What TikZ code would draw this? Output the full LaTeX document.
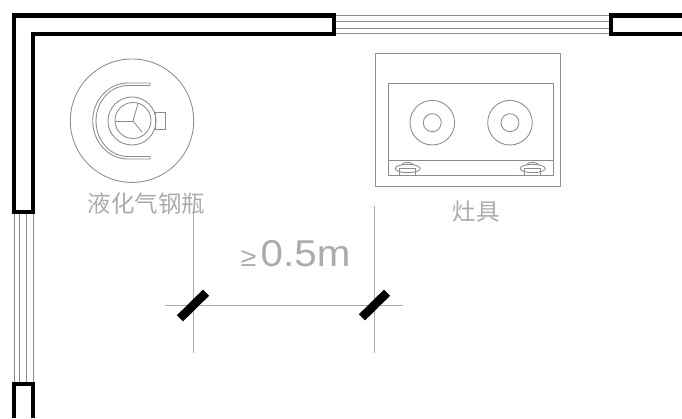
\documentclass[tikz,border=0pt]{standalone}
\usepackage{fontspec}
\setmainfont{Liberation Sans}
\newfontfamily\cjkfont{Noto Sans CJK SC}
\usepackage{xcolor}
\definecolor{planline}{HTML}{8C8C8C}
\definecolor{plantext}{HTML}{ABABAB}
\definecolor{dimline}{HTML}{ABABAB}
\usetikzlibrary{calc}
\tikzset{
  wall/.style={black, line width=3.4pt, line join=miter},
  glass/.style={planline, line width=0.6pt},
  thin part/.style={planline, line width=0.65pt},
  dim line/.style={dimline, line width=0.75pt},
  dim tick/.style={black, line width=6.5pt},
  label text/.style={plantext, inner sep=0pt}
}

\begin{document}
\begin{tikzpicture}[x=0.75pt, y=-0.75pt]
        \useasboundingbox (0,0) rectangle (682,418);
        % Walls
        \draw[wall] (334,15.5) -- (14,15.5) -- (14,212) -- (33,212) -- (33,34) -- (334,34) -- cycle;
        \draw[wall] (682,15.5) -- (611,15.5) -- (611,34) -- (682,34);
        \draw[wall] (14,418) -- (14,384) -- (33,384) -- (33,418);
        % Window, top
        \foreach \y in {15.5,21.5,28,33.5}
          \draw[glass] (336,\y) -- (609,\y);
        % Window, left
        \foreach \x in {14,19.5,26,33}
          \draw[glass] (\x,214) -- (\x,382);
        % Gas cylinder
        \draw[thin part] (132,120.7) circle (61.7);
        \draw[thin part] (132,121) circle (24);
        \draw[thin part] (133,120.5) circle (18);
        \draw[thin part] (133,121) -- (138,103.5);
        \draw[thin part] (133,121) -- (115,121);
        \draw[thin part] (133,121) -- (142,132);
        \draw[thin part] (155.7,112.7) rectangle (165.7,129.3);
        \draw[thin part] (150,83) -- (128,83) arc (-90:-270:35.3 and 38) -- (150,159) -- (150,156.5)
          -- (128,156.5) arc (-270:-90:32 and 35.5) -- (150,85.5) -- cycle;
        \node[label text, font=\cjkfont\fontsize{17.6}{20}\selectfont] (cylinderlabel) at (146.5,204) {液化气钢瓶};
        % Cooker
        \draw[thin part] (375.3,53.3) rectangle (560.3,186.3);
        \draw[thin part] (388.3,83.7) rectangle (553.3,175);
        \draw[thin part] (388.3,160.3) -- (553.3,160.3);
        \foreach \x in {432.3,510} {
          \draw[thin part] (\x,122.7) circle (22.3);
          \draw[thin part] (\x,122.7) circle (9);
        }
        \foreach \x in {407.7,532.7} {
          \draw[thin part] (\x,168.5) ellipse (12.5 and 4.2);
          \draw[thin part] (\x-6,164.8) .. controls (\x-5,161.5) and (\x+5,161.5) .. (\x+6,164.8);
          \draw[thin part] (\x-8,168.5) rectangle (\x+8,175);
        }
        \node[label text, font=\cjkfont\fontsize{17.6}{20}\selectfont] (cookerlabel) at (476,212) {灶具};
        % Clearance dimension
        \draw[dim line] (193,207) -- (193,353);
        \draw[dim line] (374,206) -- (374,353);
        \draw[dim line] (165,305) -- (403,305);
        \draw[dim tick] (180,318.3) -- (206,292.7);
        \draw[dim tick] (362,317.3) -- (387,292.7);
        \node[label text, font=\fontsize{28}{30}\selectfont, xscale=1.08] (gaplabel) at (295.5,253.5)
          {{\fontsize{20}{22}\selectfont ≥}\hspace{3pt}0.5m};
      \end{tikzpicture}
\end{document}
